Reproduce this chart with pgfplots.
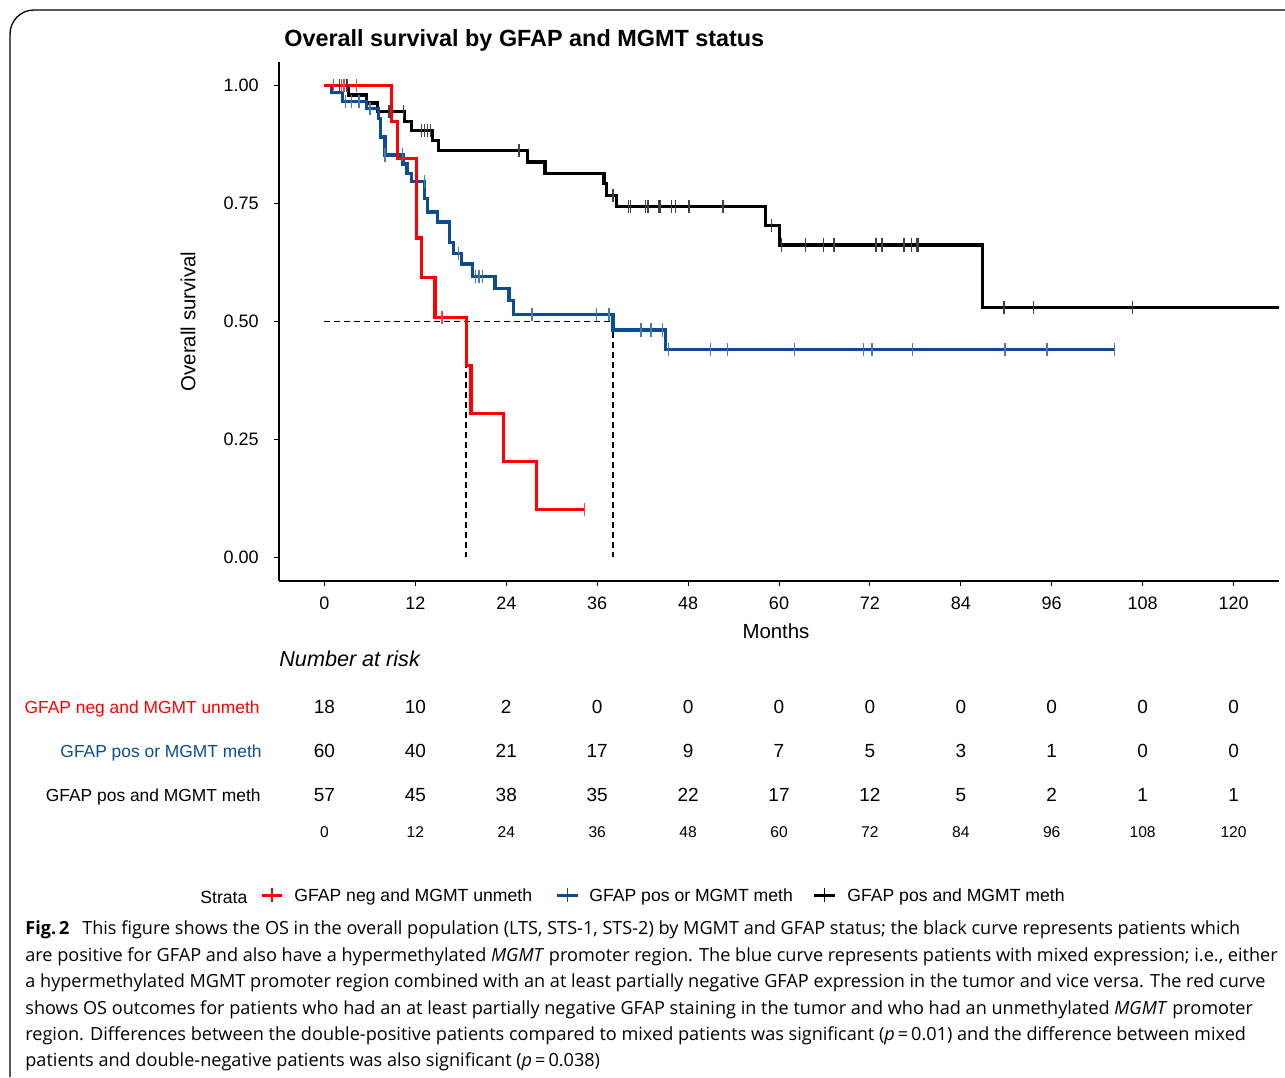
\documentclass[border=0pt]{standalone}
\usepackage{pgfplots}
\pgfplotsset{compat=1.18}
\usepackage{fontspec}
\setmainfont{Liberation Sans}
\newfontfamily\capfont{Open Sans}
\definecolor{kmred}{RGB}{255,0,0}
\definecolor{kmblue}{RGB}{12,76,148}
\newcommand{\fs}[1]{\fontsize{#1}{#1}\selectfont}
\begin{document}
\begin{tikzpicture}[x=0.5pt,y=-0.5pt]
\path[use as bounding box] (0,0) rectangle (1285,1077);
\draw[line width=0.65pt, rounded corners=12] (1285,10) -- (10,10) -- (10,1077);

\node[anchor=west, inner sep=0pt, font=\bfseries\fs{11.7pt}] at (284,40) {Overall survival by GFAP and MGMT status};

\begin{scope}[x=1cm,y=1cm]
\begin{axis}[at={(139.5pt,-290.5pt)}, anchor=south west, width=500pt, height=259.5pt, scale only axis,
  xmin=-6, xmax=126, ymin=-0.05, ymax=1.05,
  axis x line*=bottom, axis y line*=left,
  axis line style={line width=0.6pt, -},
  tick style={line width=0.5pt, black}, tick align=outside, major tick length=2.5pt,
  xtick={0,12,...,120}, xticklabels={0,12,24,36,48,60,72,84,96,108,120},
  ytick={0,0.25,0.5,0.75,1}, yticklabels={0.00,0.25,0.50,0.75,1.00},
  ticklabel style={font=\fs{9pt}},
  yticklabel style={inner sep=0pt, xshift=-7.5pt},
  xticklabel style={inner sep=0pt, yshift=-5.25pt},
  xlabel={Months}, ylabel={Overall survival},
  label style={font=\fs{10.2pt}},
  xlabel style={at={(axis description cs:0.497,-0.0963)}, anchor=center, inner sep=0pt},
  ylabel style={at={(axis description cs:-0.091,0.5)}, anchor=center, inner sep=0pt},
  clip=true]
% median lines
\addplot[black, line width=0.7pt, dash pattern=on 3pt off 2pt] coordinates {(0,0.5) (38.1,0.5)};
\addplot[black, line width=0.7pt, dash pattern=on 3pt off 2pt] coordinates {(18.7,0.5) (18.7,0)};
\addplot[black, line width=0.7pt, dash pattern=on 3pt off 2pt] coordinates {(38.1,0.5) (38.1,0)};
% black: GFAP pos and MGMT meth
\addplot[const plot, black, line width=1.6pt] coordinates {
(0,1) (3.2,0.980) (5.5,0.963) (7.0,0.945) (10.6,0.924) (11.5,0.905) (14.3,0.884) (15.1,0.862)
(26.8,0.838) (29.1,0.813) (36.9,0.792) (37.25,0.767) (38.6,0.743) (58.2,0.704) (60.1,0.662)
(86.9,0.530) (127,0.530)};
\addplot[only marks, mark=|, mark size=3.3pt, black!75, mark options={line width=0.7pt}] coordinates {
(2.0,1) (2.6,1) (3.0,1) (8.5,0.945) (10.4,0.945) (12.83,0.905) (13.17,0.905) (13.57,0.905) (14.02,0.905)
(25.67,0.862) (38.1,0.767) (40.1,0.743) (40.4,0.743) (42.4,0.743) (42.7,0.743) (44.1,0.743) (44.3,0.743)
(45.8,0.743) (46.3,0.743) (48.1,0.743) (52.6,0.743) (59.0,0.704) (60.35,0.662) (63.5,0.662) (65.9,0.662)
(67.25,0.662) (72.8,0.662) (73.6,0.662) (76.5,0.662) (77.45,0.662) (78.2,0.662) (78.4,0.662)
(89.7,0.530) (93.6,0.530) (106.7,0.530)};
% blue: GFAP pos or MGMT meth
\addplot[const plot, kmblue, line width=1.6pt] coordinates {
(0,1) (1.0,0.985) (2.4,0.967) (5.6,0.951) (7.1,0.930) (7.4,0.891) (8.0,0.853) (10.36,0.834)
(10.9,0.813) (11.5,0.796) (13.2,0.760) (13.6,0.732) (14.9,0.711) (16.5,0.667) (17.0,0.644)
(18.1,0.622) (19.5,0.596) (22.5,0.570) (24.35,0.544) (25.0,0.515) (38.1,0.482) (45.0,0.440)
(104.25,0.440)};
\addplot[only marks, mark=|, mark size=3.3pt, kmblue!75, mark options={line width=0.7pt}] coordinates {
(2.8,0.967) (3.6,0.967) (4.55,0.967) (6.0,0.951) (8.0,0.853) (10.3,0.853) (13.2,0.796) (17.7,0.644)
(19.95,0.596) (20.4,0.596) (20.85,0.596) (27.4,0.515) (35.9,0.515) (37.55,0.515)
(41.78,0.482) (43.1,0.482) (44.64,0.482) (45.38,0.440) (50.98,0.440) (53.17,0.440) (62.01,0.440)
(71.12,0.440) (72.27,0.440) (77.64,0.440) (89.82,0.440) (95.37,0.440) (104.25,0.440)};
% red: GFAP neg and MGMT unmeth
\addplot[const plot, kmred, line width=1.6pt] coordinates {
(0,1) (8.8,0.924) (9.6,0.846) (12.2,0.677) (12.85,0.593) (14.6,0.508) (18.7,0.407) (19.35,0.305)
(23.6,0.204) (28.0,0.102) (34.3,0.102)};
\addplot[only marks, mark=|, mark size=3.3pt, kmred!75, mark options={line width=0.7pt}] coordinates {
(1.2,1) (2.25,1) (2.6,1) (4.2,1) (15.5,0.508) (34.3,0.102)};
\end{axis}

% risk table numbers
\begin{axis}[at={(139.5pt,-419.5pt)}, anchor=south west, width=500pt, height=88pt, scale only axis,
  xmin=-6, xmax=126, ymin=0, ymax=4, hide axis, clip=false]
\addplot[draw=none, nodes near coords, point meta=explicit symbolic,
  nodes near coords style={anchor=center, inner sep=0pt, font=\fs{9.5pt}, text=black}] table[meta=n] {
x y n
0 3 18
12 3 10
24 3 2
36 3 0
48 3 0
60 3 0
72 3 0
84 3 0
96 3 0
108 3 0
120 3 0
0 2 60
12 2 40
24 2 21
36 2 17
48 2 9
60 2 7
72 2 5
84 2 3
96 2 1
108 2 0
120 2 0
0 1 57
12 1 45
24 1 38
36 1 35
48 1 22
60 1 17
72 1 12
84 1 5
96 1 2
108 1 1
120 1 1
};
\addplot[draw=none, nodes near coords, point meta=explicit symbolic,
  nodes near coords style={anchor=center, inner sep=0pt, font=\fs{7.8pt}, text=black}] table[meta=n] {
x y n
0 0.159 0
12 0.159 12
24 0.159 24
36 0.159 36
48 0.159 48
60 0.159 60
72 0.159 72
84 0.159 84
96 0.159 96
108 0.159 108
120 0.159 120
};
\end{axis}
\end{scope}

\node[anchor=west, inner sep=0pt, font=\itshape\fs{10.8pt}] at (279,659) {Number at risk};
\node[anchor=east, inner sep=0pt, font=\fs{8.7pt}, text=kmred] at (260,709) {GFAP neg and MGMT unmeth};
\node[anchor=east, inner sep=0pt, font=\fs{8.7pt}, text=kmblue] at (262,753) {GFAP pos or MGMT meth};
\node[anchor=east, inner sep=0pt, font=\fs{8.7pt}] at (261,797) {GFAP pos and MGMT meth};

% legend
\node[anchor=west, inner sep=0pt, font=\fs{8.8pt}] at (200,897) {Strata};
\draw[kmred, line width=1.5pt] (262,895) -- (282,895);
\draw[kmred, line width=0.7pt] (272,888) -- (272,902);
\node[anchor=west, inner sep=0pt, font=\fs{8.8pt}] at (294,897) {GFAP neg and MGMT unmeth};
\draw[kmblue, line width=1.5pt] (557,895) -- (578,895);
\draw[kmblue, line width=0.7pt] (567.5,888) -- (567.5,902);
\node[anchor=west, inner sep=0pt, font=\fs{8.8pt}] at (589,897) {GFAP pos or MGMT meth};
\draw[black, line width=1.5pt] (814,895) -- (835,895);
\draw[black, line width=0.7pt] (824.5,888) -- (824.5,902);
\node[anchor=west, inner sep=0pt, font=\fs{8.8pt}] at (847,897) {GFAP pos and MGMT meth};

% caption
\begin{scope}[every node/.style={anchor=base west, inner sep=0pt, font=\capfont\fs{9.05pt}}]
\node at (25,934) {\textbf{Fig.\,2}\hspace{0.7em}This figure shows the OS in the overall population (LTS, STS-1, STS-2) by MGMT and GFAP status; the black curve represents patients which};
\node at (25,961) {are positive for GFAP and also have a hypermethylated \textit{MGMT} promoter region. The blue curve represents patients with mixed expression; i.e., either};
\node at (25,987) {a hypermethylated MGMT promoter region combined with an at least partially negative GFAP expression in the tumor and vice versa. The red curve};
\node at (25,1014) {shows OS outcomes for patients who had an at least partially negative GFAP staining in the tumor and who had an unmethylated \textit{MGMT} promoter};
\node at (25,1040) {region. Differences between the double-positive patients compared to mixed patients was significant (\textit{p}\,=\,0.01) and the difference between mixed};
\node at (25,1066) {patients and double-negative patients was also significant (\textit{p}\,=\,0.038)};
\end{scope}
\end{tikzpicture}
\end{document}
